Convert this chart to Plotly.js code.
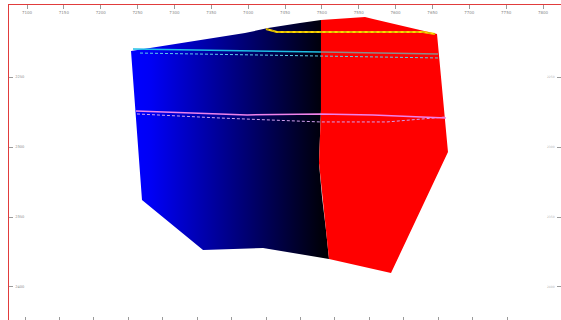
<!DOCTYPE html>
<html>
<head>
<meta charset="utf-8">
<script src="https://cdn.plot.ly/plotly-3.0.1.min.js"></script>
<style>
  html, body { margin: 0; padding: 0; background: #fff; overflow: hidden; }
  #plot { width: 562px; height: 322px; }
</style>
</head>
<body>
<div id="plot"></div>
<script>
// Section axes: easting along the top, depth down the side
const xTicks = [7100, 7150, 7200, 7250, 7300, 7350, 7400, 7450, 7500, 7550, 7600, 7650, 7700, 7750, 7800];
const xTickText = xTicks.map(String);
const yTicks = [2250, 2300, 2350, 2400];
const yTickText = yTicks.map(String);
const bottomTicks = [0, 1, 2, 3, 4, 5, 6, 7, 8, 9, 10, 11, 12, 13, 14];

// Fault trace separating the two blocks (top to bottom)
const faultX = [7498.8, 7498.8, 7498.8, 7496.1, 7500.2, 7505.6, 7509.7];
const faultY = [2209.3, 2237.9, 2273.6, 2311.4, 2335.7, 2359.3, 2380.0];

// West block outline (from fault base, along base and west flank, over the top)
const westX = [7420.2, 7338.8, 7256.0, 7241.1, 7395.7, 7426.9, 7470.3];
const westY = [2372.1, 2373.6, 2337.9, 2231.4, 2218.6, 2215.0, 2211.4];

// East block outline (from fault top, over the crest, down the east flank)
const eastX = [7558.5, 7569.4, 7656.2, 7671.1, 7593.8];
const eastY = [2207.1, 2208.6, 2219.3, 2303.6, 2390.0];

// Horizon picks
const topHorizonX = [7243.8, 7384.9, 7498.8];
const topHorizonY = [2230.0, 2231.4, 2232.1];
const topHorizonEastX = [7498.8, 7580.0, 7657.6];
const topHorizonEastY = [2232.1, 2232.9, 2233.6];
const topModelX = [7253.3, 7406.6, 7498.8, 7657.6];
const topModelY = [2232.9, 2234.3, 2235.0, 2236.4];
const midHorizonX = [7247.9, 7398.5, 7497.5, 7569.4, 7668.4];
const midHorizonY = [2274.3, 2277.1, 2276.4, 2277.1, 2279.3];
const midModelX = [7249.2, 7361.8, 7497.5, 7588.4, 7667.1];
const midModelY = [2276.4, 2279.3, 2282.1, 2282.1, 2278.6];
const crestX = [7424.2, 7439.1, 7637.2, 7653.5];
const crestY = [2215.7, 2217.9, 2217.9, 2219.3];

// Closed polygons: west block = fault (top→bottom) + west outline back to the top
const westPolyX = faultX.concat(westX).concat([faultX[0]]);
const westPolyY = faultY.concat(westY).concat([faultY[0]]);
// East block = fault top + crest and east flank + fault (bottom→top)
const eastPolyX = faultX.slice(0, 1).concat(eastX).concat(faultX.slice().reverse());
const eastPolyY = faultY.slice(0, 1).concat(eastY).concat(faultY.slice().reverse());

const noHover = { hoverinfo: 'skip', showlegend: false };

const traces = [
  Object.assign({
    type: 'scatter', mode: 'lines', x: westPolyX, y: westPolyY,
    fill: 'toself', line: { width: 0, color: 'rgba(0,0,0,0)' },
    fillgradient: {
      type: 'horizontal', start: Math.min(...westPolyX), stop: Math.max(...faultX),
      colorscale: [[0, 'rgb(0,0,255)'], [0.1, 'rgb(0,0,245)'], [1, 'rgb(0,0,0)']]
    }
  }, noHover),
  Object.assign({
    type: 'scatter', mode: 'lines', x: eastPolyX, y: eastPolyY,
    fill: 'toself', fillcolor: 'rgb(255,0,0)', line: { width: 0, color: 'rgba(0,0,0,0)' }
  }, noHover),
  Object.assign({ type: 'scatter', mode: 'lines', x: topModelX, y: topModelY,
    line: { color: 'rgb(90,205,235)', width: 1, dash: '3px,2px' } }, noHover),
  Object.assign({ type: 'scatter', mode: 'lines', x: topHorizonX, y: topHorizonY,
    line: { color: 'rgb(30,190,230)', width: 1.5 } }, noHover),
  Object.assign({ type: 'scatter', mode: 'lines', x: topHorizonEastX, y: topHorizonEastY,
    line: { color: 'rgb(140,140,140)', width: 1.5 } }, noHover),
  Object.assign({ type: 'scatter', mode: 'lines', x: midModelX, y: midModelY,
    line: { color: 'rgb(210,160,240)', width: 1, dash: '3px,2px' } }, noHover),
  Object.assign({ type: 'scatter', mode: 'lines', x: midHorizonX, y: midHorizonY,
    line: { color: 'rgb(240,130,235)', width: 1.5 } }, noHover),
  Object.assign({ type: 'scatter', mode: 'lines', x: crestX, y: crestY,
    line: { color: 'rgb(255,215,0)', width: 2 } }, noHover),
  Object.assign({ type: 'scatter', mode: 'lines', x: crestX, y: crestY,
    line: { color: 'rgb(120,100,0)', width: 0.6, dash: '3px,3px' } }, noHover),
  // carriers for the bottom and right tick frames
  Object.assign({ type: 'scatter', mode: 'lines', x: [], y: [], xaxis: 'x2', yaxis: 'y' }, noHover),
  Object.assign({ type: 'scatter', mode: 'lines', x: [], y: [], xaxis: 'x', yaxis: 'y2' }, noHover)
];

const topFont = { family: 'DejaVu Sans, sans-serif', size: 4, color: '#8a8a8a' };
const sideFont = { family: 'DejaVu Sans, sans-serif', size: 3.6, color: '#8a8a8a' };
const yRange = [2424.29, 2198.57];

const layout = {
  width: 562, height: 322,
  margin: { l: 9, r: 1, t: 5, b: 1, pad: 0 },
  paper_bgcolor: '#ffffff', plot_bgcolor: '#ffffff',
  showlegend: false,
  xaxis: {
    side: 'top', range: [7075.58, 7824.4], autorange: false,
    tickmode: 'array', tickvals: xTicks, ticktext: xTickText,
    ticks: 'inside', ticklen: 4, tickwidth: 1, tickcolor: '#9a9a9a',
    ticklabelposition: 'inside', ticklabeloverflow: 'allow', tickfont: topFont,
    showline: true, linecolor: 'rgb(225,60,60)', linewidth: 1.5,
    showgrid: false, zeroline: false
  },
  xaxis2: {
    overlaying: 'x', side: 'bottom', anchor: 'y',
    range: [-0.4647, 15.567], autorange: false,
    tickmode: 'array', tickvals: bottomTicks,
    ticks: 'inside', ticklen: 4, tickwidth: 1, tickcolor: '#9a9a9a',
    showticklabels: false, showline: false, showgrid: false, zeroline: false
  },
  yaxis: {
    range: yRange, autorange: false,
    tickmode: 'array', tickvals: yTicks, ticktext: yTickText,
    ticks: 'inside', ticklen: 4, tickwidth: 1, tickcolor: '#9a9a9a',
    ticklabelposition: 'inside', ticklabeloverflow: 'allow', tickfont: sideFont,
    showline: true, linecolor: 'rgb(225,60,60)', linewidth: 1.5,
    showgrid: false, zeroline: false
  },
  yaxis2: {
    overlaying: 'y', side: 'right', anchor: 'x',
    range: yRange, autorange: false,
    tickmode: 'array', tickvals: yTicks, ticktext: yTickText,
    ticks: 'inside', ticklen: 4, tickwidth: 1, tickcolor: '#9a9a9a',
    ticklabelposition: 'inside', ticklabeloverflow: 'allow',
    tickfont: { family: 'DejaVu Sans, sans-serif', size: 3, color: '#b5b5b5' },
    showline: false, showgrid: false, zeroline: false
  }
};

Plotly.newPlot('plot', traces, layout, { staticPlot: true, displayModeBar: false });
</script>
</body>
</html>
